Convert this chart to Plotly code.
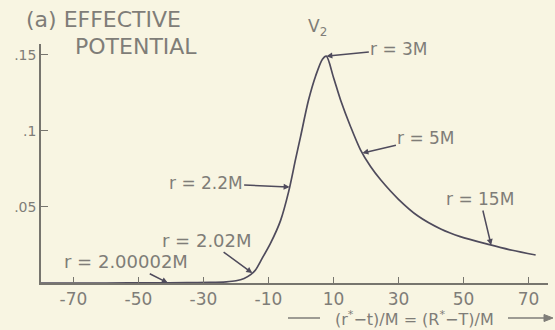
import numpy as np
import plotly.graph_objects as go

# Effective potential V2 against the tortoise-type coordinate (r* - t)/M
rstar = [-80, -60, -45, -35, -28, -23, -20, -17.5, -15.5, -14, -12, -9.4, -6.3,
         -3.8, -1.7, -0.15, 2.3, 4.5, 6.6, 7.8, 10.0, 12.2, 15.2, 18.3, 21.4,
         24.5, 30.0, 36.0, 43.0, 49.0, 58.0, 65.0, 72.2]
V2 = [0.0, 0.0, 0.0001, 0.0002, 0.0004, 0.0008, 0.0015, 0.003, 0.0055, 0.0086,
      0.016, 0.026, 0.041, 0.060, 0.081, 0.096, 0.120, 0.136, 0.147, 0.149,
      0.135, 0.120, 0.103, 0.0875, 0.0765, 0.0678, 0.055, 0.044, 0.0355,
      0.0305, 0.0252, 0.0215, 0.0184]

# Radius labels and where they sit on the curve
label_text = ["r = 2.00002M", "r = 2.02M", "r = 2.2M", "r = 3M", "r = 5M", "r = 15M"]
label_rstar = [-41, -15, -3.5, 7.8, 18.9, 58.5]

xtick_vals = [-70, -50, -30, -10, 10, 30, 50, 70]
xtick_text = ["-70", "-50", "-30", "-10", "10", "30", "50", "70"]
ytick_vals = [0.05, 0.1, 0.15]
ytick_text = [".05", ".1", ".15"]

BG = "#f8f5e2"
INK = "#4f4b5c"
GREY = "#7f7d78"
AXIS = "#77756e"
FONT = "DejaVu Sans"

W, H = 555, 330
ML, MR, MT, MB = 41, 7, 44, 47
PW, PH = W - ML - MR, H - MT - MB


def px(x):
    return (x - ML) / PW


def py(y):
    return (H - MB - y) / PH


fig = go.Figure()
fig.add_trace(go.Scatter(
    x=rstar, y=V2, mode="lines",
    line=dict(color=INK, width=1.7, shape="spline", smoothing=0.8),
    hoverinfo="skip", showlegend=False,
))

# label text offsets (pixels, text centre relative to arrow tip)
offsets = [(-42, -21), (-45, -33), (-84, -4), (73, -7), (64, -15), (-11, -46)]
sizes = [18, 18, 17, 17, 17, 17]
annotations = []
for txt, xs, (ax, ay), fs in zip(label_text, label_rstar, offsets, sizes):
    annotations.append(dict(
        x=xs, y=float(np.interp(xs, rstar, V2)), xref="x", yref="y",
        text=txt, showarrow=True, ax=ax, ay=ay,
        arrowhead=2, arrowsize=0.8, arrowwidth=1.5, arrowcolor=INK, standoff=0,
        font=dict(family=FONT, size=fs, color=GREY),
    ))

annotations += [
    dict(x=px(24), y=py(20), xref="paper", yref="paper", xanchor="left",
         yanchor="middle", text="(a) EFFECTIVE", showarrow=False,
         font=dict(family=FONT, size=22, color=GREY)),
    dict(x=px(73), y=py(47), xref="paper", yref="paper", xanchor="left",
         yanchor="middle", text="POTENTIAL", showarrow=False,
         font=dict(family=FONT, size=22, color=GREY)),
    dict(x=px(317), y=py(27), xref="paper", yref="paper", xanchor="center",
         yanchor="middle", text="V<sub>2</sub>", showarrow=False,
         font=dict(family=FONT, size=17, color=GREY)),
    dict(x=px(414), y=py(318), xref="paper", yref="paper", xanchor="center",
         yanchor="middle", text="(r<sup>*</sup>−t)/M = (R<sup>*</sup>−T)/M",
         showarrow=False, font=dict(family=FONT, size=16, color=GREY)),
]

# axis-direction bar with arrowhead beside the x label
fig.add_shape(type="line", xref="paper", yref="paper",
              x0=px(288), x1=px(320), y0=py(318), y1=py(318),
              line=dict(color=GREY, width=1.5))
fig.add_shape(type="line", xref="paper", yref="paper",
              x0=px(508), x1=px(548), y0=py(318), y1=py(318),
              line=dict(color=GREY, width=1.5))
fig.add_shape(type="path", xref="paper", yref="paper",
              path=(f"M {px(553)} {py(318)} L {px(544)} {py(314.5)} "
                    f"L {px(544)} {py(321.5)} Z"),
              fillcolor=GREY, line=dict(color=GREY, width=1))

fig.update_layout(
    width=W, height=H,
    margin=dict(l=ML, r=MR, t=MT, b=MB),
    paper_bgcolor=BG, plot_bgcolor=BG,
    annotations=annotations,
    font=dict(family=FONT, color=GREY),
)
fig.update_xaxes(
    range=[-80, 76], showgrid=False, zeroline=False,
    showline=True, linecolor=AXIS, linewidth=1.6,
    tickmode="array", tickvals=xtick_vals, ticktext=xtick_text,
    ticks="inside", ticklen=6, tickwidth=1.2, tickcolor=AXIS,
    tickfont=dict(family=FONT, size=17, color=GREY),
)
fig.update_yaxes(
    range=[0, 0.157], showgrid=False, zeroline=False,
    showline=True, linecolor=AXIS, linewidth=1.6,
    tickmode="array", tickvals=ytick_vals, ticktext=ytick_text,
    ticks="inside", ticklen=7, tickwidth=1.2, tickcolor=AXIS,
    ticklabelstandoff=0,
    tickfont=dict(family=FONT, size=14, color=GREY),
)

fig.write_html("out.html")
